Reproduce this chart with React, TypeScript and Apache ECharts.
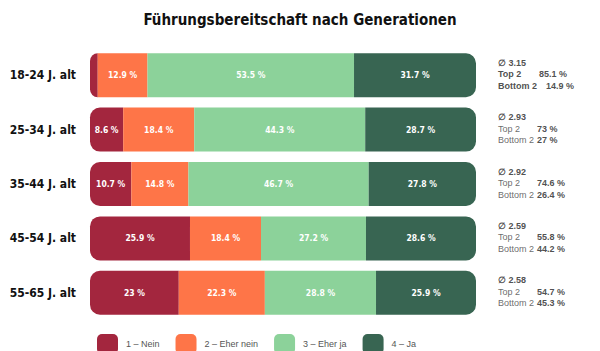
import React, { useEffect, useRef } from "react";
import * as echarts from "echarts";

const categories = ["18-24 J. alt", "25-34 J. alt", "35-44 J. alt", "45-54 J. alt", "55-65 J. alt"];
const seriesNames = ["1 – Nein", "2 – Eher nein", "3 – Eher ja", "4 – Ja"];
const nein = [2.0, 8.6, 10.7, 25.9, 23];
const eherNein = [12.9, 18.4, 14.8, 18.4, 22.3];
const eherJa = [53.5, 44.3, 46.7, 27.2, 28.8];
const ja = [31.7, 28.7, 27.8, 28.6, 25.9];
const avgValues = ["3.15", "2.93", "2.92", "2.59", "2.58"];
const top2 = ["85.1", "73", "74.6", "55.8", "54.7"];
const bottom2 = ["14.9", "27", "26.4", "44.2", "45.3"];

const colors = ["#A3263E", "#FE7548", "#8CD29A", "#386552"];
const R = 10;
const COND = "'DejaVu Sans Condensed', 'Roboto', sans-serif";

export default function App() {
  const ref = useRef<HTMLDivElement>(null);
  useEffect(() => {
    if (!ref.current) return;
    const chart = echarts.init(ref.current, null, { renderer: "svg" });
    const values = [nein, eherNein, eherJa, ja];
    const barSeries = values.map((vals, si) => ({
      name: seriesNames[si],
      type: "bar",
      stack: "total",
      barWidth: 44,
      itemStyle: { color: colors[si] },
      data: vals.map((v) => ({
        value: v,
        itemStyle: {
          borderRadius: si === 0 ? [R, 0, 0, R] : si === 3 ? [0, R, R, 0] : 0,
        },
      })),
      label: {
        show: true,
        position: "inside",
        color: "#ffffff",
        fontFamily: COND,
        fontWeight: "bold",
        fontSize: 8.5,
        formatter: (p: any) => (p.value < 5 ? "" : `${p.value} %`),
      },
    }));
    const base = { fontFamily: "Liberation Sans", fontSize: 9, lineHeight: 11.5 };
    const annot = {
      type: "scatter",
      name: "annot",
      symbolSize: 0,
      clip: false,
      silent: true,
      data: categories.map((c, i) => [100, i]),
      label: {
        show: true,
        position: "right",
        distance: 22,
        offset: [0, -1],
        formatter: (p: any) => {
          const i = p.dataIndex;
          if (i === 0) {
            return `{avg|∅ ${avgValues[i]}}\n{labB|Top 2}{val|${top2[i]} %}\n{labB2|Bottom 2}{val|${bottom2[i]} %}`;
          }
          return `{avg|∅ ${avgValues[i]}}\n{lab|Top 2}{val|${top2[i]} %}\n{lab|Bottom 2}{val|${bottom2[i]} %}`;
        },
        rich: {
          avg: { ...base, fontWeight: "bold", color: "#222" },
          lab: { ...base, color: "#444", width: 39 },
          labB: { ...base, fontWeight: "bold", color: "#222", width: 41 },
          labB2: { ...base, fontWeight: "bold", color: "#222", width: 48 },
          val: { ...base, fontWeight: "bold", color: "#222" },
        },
      },
    };
    chart.setOption({
      animation: false,
      backgroundColor: "#ffffff",
      title: {
        text: "Führungsbereitschaft nach Generationen",
        left: "center",
        top: 7,
        textStyle: { fontFamily: COND, fontWeight: "bold", fontSize: 15, color: "#111" },
      },
      legend: {
        data: seriesNames,
        left: 92,
        top: 329,
        icon: "roundRect",
        itemWidth: 21,
        itemHeight: 20,
        itemGap: 16,
        textStyle: { fontFamily: "Liberation Sans", fontSize: 9, color: "#555", padding: [0, 0, 0, 3] },
      },
      grid: { left: 90, right: 124, top: 48, bottom: 31, containLabel: false },
      xAxis: { type: "value", min: 0, max: 100, show: false },
      yAxis: {
        type: "category",
        inverse: true,
        data: categories,
        axisLine: { show: false },
        axisTick: { show: false },
        axisLabel: {
          margin: 14,
          fontFamily: COND,
          fontWeight: "bold",
          fontSize: 12,
          color: "#111",
        },
      },
      series: [...barSeries, annot],
    });
    return () => chart.dispose();
  }, []);
  return (
    <div
      ref={ref}
      style={{ position: "fixed", left: 0, top: 0, width: 600, height: 351, background: "#fff" }}
    />
  );
}
